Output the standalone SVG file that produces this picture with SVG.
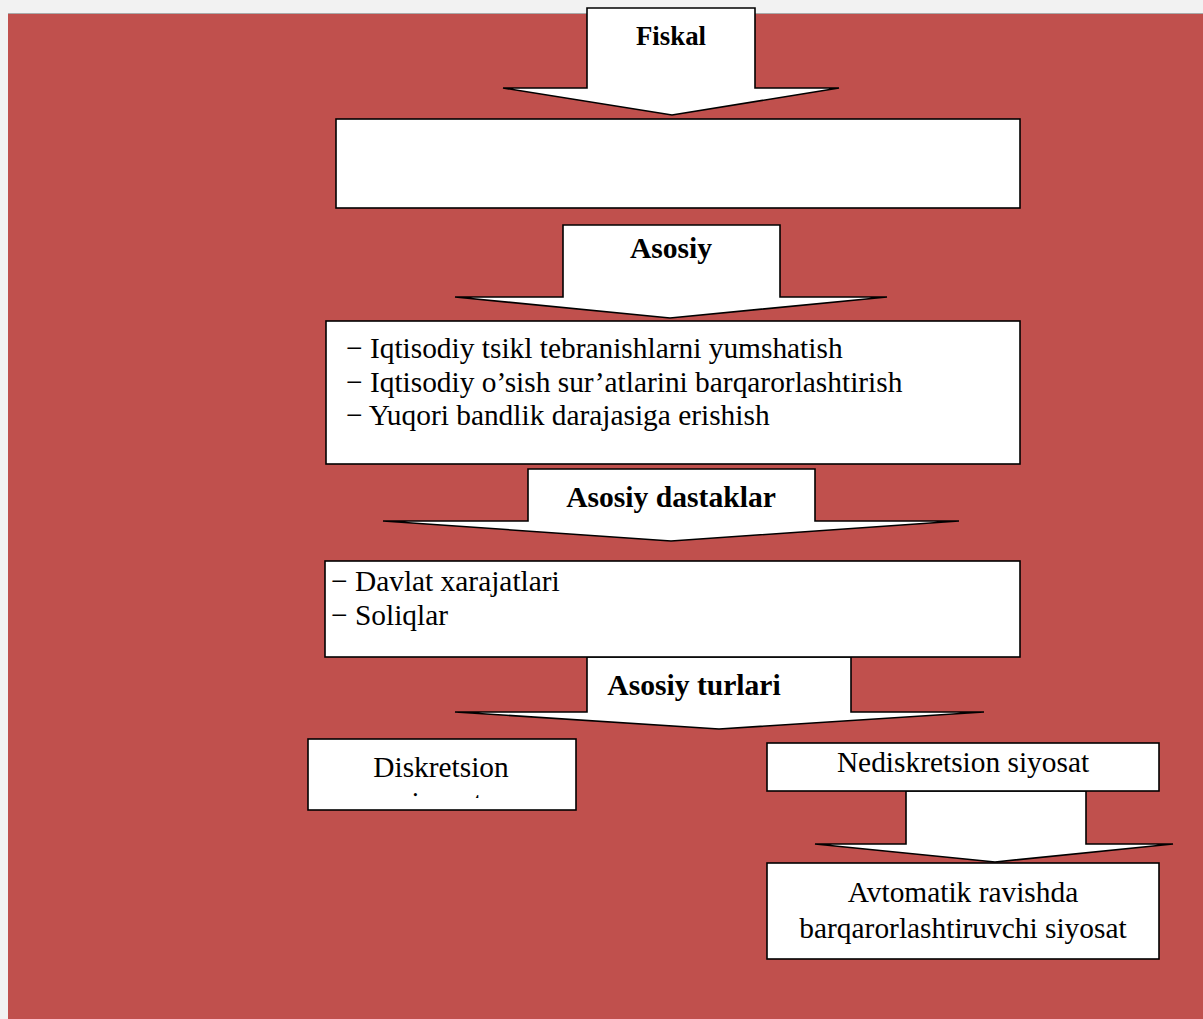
<svg xmlns="http://www.w3.org/2000/svg" width="1203" height="1019" viewBox="0 0 1203 1019">
<style>
.box{fill:#fff;stroke:#000;stroke-width:1.6}
.arr{fill:#fff;stroke:#000;stroke-width:1.6;stroke-linejoin:miter}
.t{font-family:"Liberation Serif","Times New Roman",serif;font-size:29.4px;fill:#000}
.b{font-family:"Liberation Serif","Times New Roman",serif;font-size:29.6px;font-weight:bold;fill:#000}
.c{text-anchor:middle}
</style>
<defs>
<clipPath id="clipD"><rect x="308" y="740" width="268" height="58"/></clipPath>
</defs>
<rect x="0" y="0" width="1203" height="1019" fill="#f2f2f2"/>
<rect x="8" y="13" width="1195" height="1006" fill="#c0504d"/>
<line x1="8" y1="13.5" x2="1203" y2="13.5" stroke="#a9a9a9" stroke-width="1"/>

<g id="connectors">
<polygon id="arrow-fiskal" class="arr" points="587,8 755,8 755,88 839,88 672,115 503,88 587,88"/>
<polygon id="arrow-asosiy" class="arr" points="563,225 780,225 780,297 887,297 670,318 455,297 563,297"/>
<polygon id="arrow-dastaklar" class="arr" points="528,469 815,469 815,521 959,521 671,541 383,521 528,521"/>
<polygon id="arrow-turlari" class="arr" points="587,657 851,657 851,712 984,712 719,729 455,712 587,712"/>
<polygon id="arrow-nedisk" class="arr" points="906,791 1086,791 1086,844 1173,844 995,862 815,844 906,844"/>
</g>
<g id="label-fiskal"><text class="b c" x="671" y="45" style="font-size:26.8px">Fiskal</text></g>
<g id="label-asosiy"><text class="b c" x="671" y="258">Asosiy</text></g>
<g id="label-dastaklar"><text class="b c" x="671" y="507">Asosiy dastaklar</text></g>
<g id="label-turlari"><text class="b c" x="694" y="695">Asosiy turlari</text></g>

<g id="box-empty"><rect class="box" x="336" y="119" width="684" height="89"/></g>

<g id="box-maqsad">
<rect class="box" x="326" y="321" width="694" height="143"/>
<text class="t" x="346" y="358">− Iqtisodiy tsikl tebranishlarni yumshatish</text>
<text class="t" x="346" y="392">− Iqtisodiy o’sish sur’atlarini barqarorlashtirish</text>
<text class="t" x="346" y="425">− Yuqori bandlik darajasiga erishish</text>
</g>

<g id="box-dastaklar">
<rect class="box" x="325" y="561" width="695" height="96"/>
<text class="t" x="331" y="591">− Davlat xarajatlari</text>
<text class="t" x="331" y="625">− Soliqlar</text>
</g>

<g id="box-diskretsion">
<rect class="box" x="308" y="739" width="268" height="71"/>
<text class="t c" x="441" y="777">Diskretsion</text>
<text class="t c" x="441" y="812" clip-path="url(#clipD)">siyosat</text>
</g>

<g id="box-nediskretsion">
<rect class="box" x="767" y="743" width="392" height="48"/>
<text class="t c" x="963" y="772">Nediskretsion siyosat</text>
</g>

<g id="box-avtomatik">
<rect class="box" x="767" y="863" width="392" height="96"/>
<text class="t c" x="963" y="902">Avtomatik ravishda</text>
<text class="t c" x="963" y="938">barqarorlashtiruvchi siyosat</text>
</g>
</svg>
